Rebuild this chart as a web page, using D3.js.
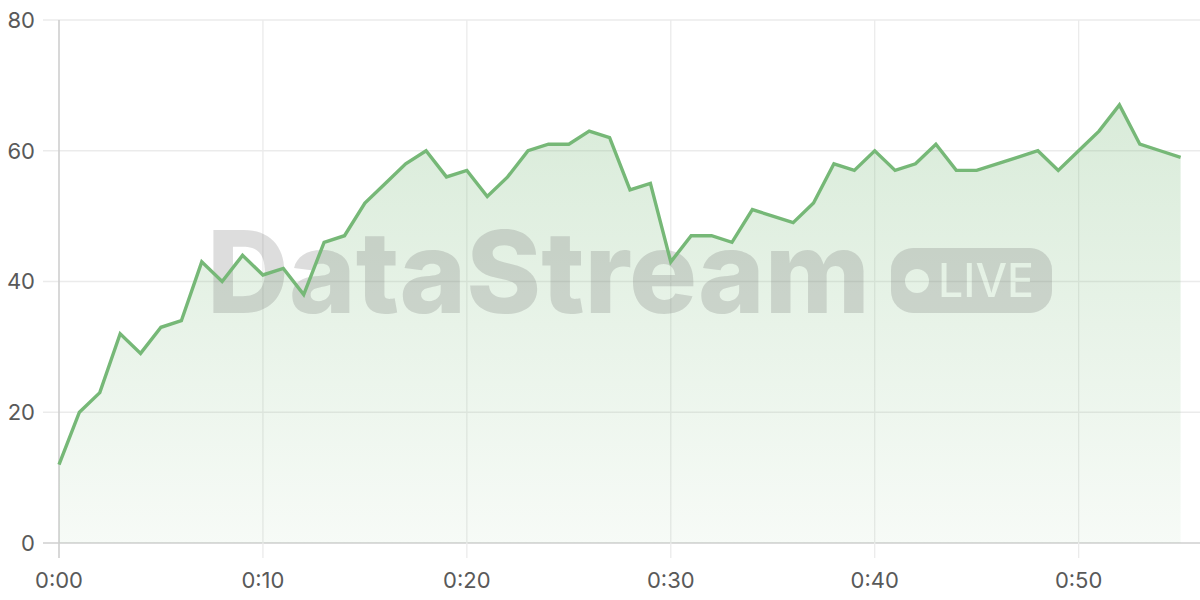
<!DOCTYPE html>
<html><head><meta charset="utf-8">
<script src="https://cdn.jsdelivr.net/npm/d3@7"></script>
<style>html,body{margin:0;padding:0;background:#fff;}svg{display:block;}</style>
</head><body>
<svg id="chart" width="1200" height="600"></svg>
<script>
const minutes = d3.range(0, 56);
const values = [12,20,23,32,29,33,34,43,40,44,41,42,38,46,47,52,55,58,60,56,57,53,56,60,61,61,63,62,54,55,43,47,47,46,51,50,49,52,58,57,60,57,58,61,57,57,58,59,60,57,60,63,67,61,60,59];
const xTicks = [0,10,20,30,40,50];
const yTicks = [0,20,40,60,80];
const xTickLabels = ["0:00","0:10","0:20","0:30","0:40","0:50"];
const watermarkText = "DataStream";
const badgeText = "LIVE";

const data = minutes.map((m,i)=>({m, v: values[i]}));
const svg = d3.select("#chart");
const mLeft = 59, mRight = 1201, mTop = 20, mBottom = 543;
const x = d3.scaleLinear().domain([0,56]).range([mLeft,mRight]);
const y = d3.scaleLinear().domain([0,80]).range([mBottom,mTop]);
const font = "Inter, 'Noto Sans', sans-serif";

// gradient
const defs = svg.append("defs");
const grad = defs.append("linearGradient").attr("id","areaGrad")
  .attr("gradientUnits","userSpaceOnUse").attr("x1",0).attr("x2",0).attr("y1",y(80)).attr("y2",y(0));
grad.append("stop").attr("offset","0%").attr("stop-color","#76b877").attr("stop-opacity",0.32);
grad.append("stop").attr("offset","100%").attr("stop-color","#76b877").attr("stop-opacity",0.06);

// horizontal grid
svg.append("g").selectAll("line").data(yTicks).join("line")
  .attr("x1",43).attr("x2",1200).attr("y1",d=>y(d)).attr("y2",d=>y(d))
  .attr("stroke",d=>d===0?"#cfcfcf":"#ebebeb").attr("stroke-width",d=>d===0?1.6:1.3);
// vertical grid
svg.append("g").selectAll("line").data(xTicks).join("line")
  .attr("x1",d=>x(d)).attr("x2",d=>x(d)).attr("y1",mTop).attr("y2",558)
  .attr("stroke",d=>d===0?"#cfcfcf":"#ebebeb").attr("stroke-width",d=>d===0?1.6:1.3);

// area
const area = d3.area().x(d=>x(d.m)).y0(y(0)).y1(d=>y(d.v));
svg.append("path").datum(data).attr("d",area).attr("fill","url(#areaGrad)");

// watermark
const wm = svg.append("g");
wm.append("text").text(watermarkText)
  .attr("x",207).attr("y",313).attr("textLength",663).attr("lengthAdjust","spacingAndGlyphs")
  .attr("font-family",font).attr("font-weight",800).attr("font-size",114)
  .attr("fill","#6f6f6f").attr("fill-opacity",0.24);
const mask = defs.append("mask").attr("id","pillMask");
mask.append("rect").attr("x",891).attr("y",248).attr("width",161).attr("height",65).attr("rx",22).attr("fill","#fff");
mask.append("circle").attr("cx",917).attr("cy",281).attr("r",12).attr("fill","#000");
mask.append("text").text(badgeText).attr("x",938).attr("y",297).attr("textLength",96)
  .attr("lengthAdjust","spacingAndGlyphs")
  .attr("font-family",font).attr("font-weight",500).attr("font-size",46).attr("fill","#000");
wm.append("rect").attr("x",891).attr("y",248).attr("width",161).attr("height",65)
  .attr("fill","#6f6f6f").attr("fill-opacity",0.24).attr("mask","url(#pillMask)");

// line
const line = d3.line().x(d=>x(d.m)).y(d=>y(d.v));
svg.append("path").datum(data).attr("d",line).attr("fill","none")
  .attr("stroke","#76b877").attr("stroke-width",3.4).attr("stroke-linejoin","miter");

// axes labels
svg.append("g").selectAll("text").data(yTicks).join("text")
  .attr("x",35).attr("y",d=>y(d)).attr("dy","0.36em").attr("text-anchor","end")
  .attr("font-family",font).attr("font-size",22).attr("fill","#595959").text(d=>d);
svg.append("g").selectAll("text").data(xTicks).join("text")
  .attr("x",d=>x(d)).attr("y",588).attr("text-anchor","middle")
  .attr("font-family",font).attr("font-size",22).attr("fill","#595959").text((d,i)=>xTickLabels[i]);
</script>
</body></html>
